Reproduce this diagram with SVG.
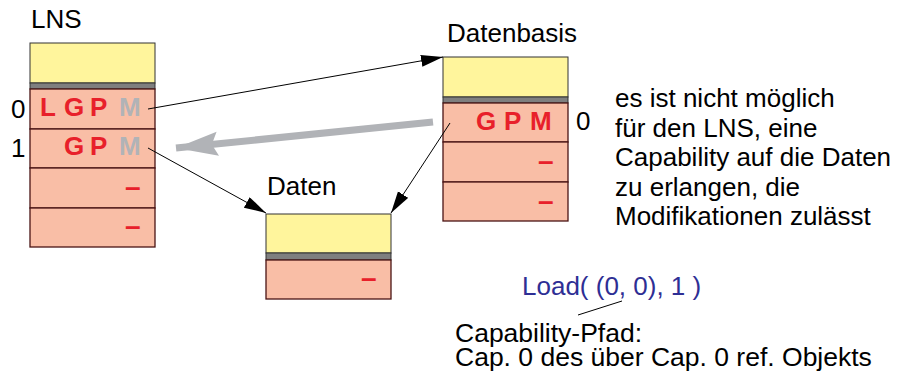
<svg xmlns="http://www.w3.org/2000/svg" width="900" height="374" viewBox="0 0 900 374">
  <style>
    text { font-family: "Liberation Sans", Arial, sans-serif; }
    .lbl { font-size: 26px; fill: #000; }
    .hdr { fill: #fff59c; stroke: #333; stroke-width: 1; }
    .bar { fill: #7f7f7f; stroke: #333; stroke-width: 1; }
    .row { fill: #f9bea6; stroke: #4a1414; stroke-width: 1.3; }
    .cap { font-size: 26px; font-weight: bold; fill: #e8202a; }
    .off { fill: #b1b3b7; }
    .dash { font-size: 28px; font-weight: bold; fill: #e8202a; }
    .link { stroke: #000; stroke-width: 1; fill: none; }
  </style>
  <defs>
    <marker id="head" markerUnits="userSpaceOnUse" markerWidth="24" markerHeight="14" refX="22" refY="6" orient="auto">
      <path d="M0,0 L22,6 L0,12 Z" fill="#000"/>
    </marker>
    <marker id="bighead" markerUnits="userSpaceOnUse" markerWidth="44" markerHeight="26" refX="42" refY="12" orient="auto">
      <path d="M0,0 L42,12 L0,24 L6,12 Z" fill="#b1b3b7"/>
    </marker>
  </defs>

  <!-- LNS: capability list -->
  <g id="lns">
    <text class="lbl" x="31" y="28">LNS</text>
    <rect class="hdr" x="30" y="43" width="125" height="40"/>
    <rect class="bar" x="30" y="83" width="125" height="6"/>
    <rect class="row" x="30" y="89" width="125" height="40"/>
    <rect class="row" x="30" y="129" width="125" height="39"/>
    <rect class="row" x="30" y="168" width="125" height="40"/>
    <rect class="row" x="30" y="208" width="125" height="39"/>
    <text class="lbl" x="11" y="118">0</text>
    <text class="lbl" x="11" y="157">1</text>
    <text class="cap" x="40" y="116">L</text>
    <text class="cap" x="64" y="116">G</text>
    <text class="cap" x="90" y="116">P</text>
    <text class="cap off" x="119" y="116">M</text>
    <text class="cap" x="64" y="155">G</text>
    <text class="cap" x="90" y="155">P</text>
    <text class="cap off" x="119" y="155">M</text>
    <text class="dash" x="125" y="196">–</text>
    <text class="dash" x="125" y="235">–</text>
  </g>

  <!-- Datenbasis object -->
  <g id="datenbasis">
    <text class="lbl" x="447" y="42">Datenbasis</text>
    <rect class="hdr" x="443" y="57" width="125" height="40"/>
    <rect class="bar" x="443" y="97" width="125" height="6"/>
    <rect class="row" x="443" y="103" width="125" height="39"/>
    <rect class="row" x="443" y="142" width="125" height="40"/>
    <rect class="row" x="443" y="182" width="125" height="39"/>
    <text class="cap" x="476" y="130">G</text>
    <text class="cap" x="504" y="130">P</text>
    <text class="cap" x="530" y="130">M</text>
    <text class="lbl" x="576" y="130">0</text>
    <text class="dash" x="538" y="170">–</text>
    <text class="dash" x="538" y="210">–</text>
  </g>

  <!-- Daten object -->
  <g id="daten">
    <text class="lbl" x="267" y="195">Daten</text>
    <rect class="hdr" x="266" y="214" width="125" height="39"/>
    <rect class="bar" x="266" y="253" width="125" height="7"/>
    <rect class="row" x="266" y="260" width="125" height="39"/>
    <text class="dash" x="361" y="287">–</text>
  </g>

  <!-- explanatory note -->
  <g id="note">
    <text class="lbl" x="615" y="107">es ist nicht möglich</text>
    <text class="lbl" x="615" y="137">für den LNS, eine</text>
    <text class="lbl" x="615" y="166">Capability auf die Daten</text>
    <text class="lbl" x="615" y="196">zu erlangen, die</text>
    <text class="lbl" x="615" y="225">Modifikationen zulässt</text>
  </g>

  <!-- Load call with capability path -->
  <g id="load">
    <text x="522" y="295" style="font-size:26px; fill:#2e2e94">Load( (0, 0), 1 )</text>
    <text class="lbl" style="font-size:26.5px">
      <tspan x="455" y="342">Capability-Pfad:</tspan>
      <tspan x="455" y="366">Cap. 0 des über Cap. 0 ref. Objekts</tspan>
    </text>
  </g>

  <!-- connectors -->
  <g id="connectors">
    <line class="link" x1="148" y1="109" x2="443" y2="57" marker-end="url(#head)"/>
    <line class="link" x1="148" y1="148" x2="266" y2="213" marker-end="url(#head)"/>
    <line class="link" x1="450" y1="123" x2="391" y2="213" marker-end="url(#head)"/>
    <line x1="433" y1="122" x2="176" y2="148" stroke="#b1b3b7" stroke-width="7" marker-end="url(#bighead)"/>
    <line class="link" x1="578" y1="315" x2="622" y2="301"/>
  </g>
</svg>
